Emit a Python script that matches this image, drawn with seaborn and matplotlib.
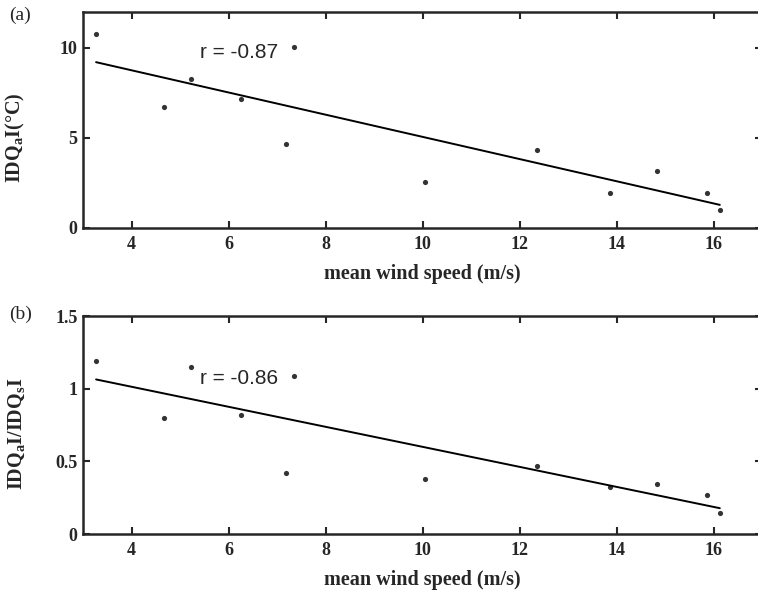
import matplotlib
matplotlib.use("Agg")
import matplotlib.pyplot as plt
import seaborn as sns
import pandas as pd

# values
wind_speed = [3.27, 4.67, 5.23, 6.25, 7.18, 7.36, 10.05, 12.36, 13.87, 14.84, 15.87, 16.13]
dqa = [10.76, 6.74, 8.27, 7.14, 4.65, 10.06, 2.57, 4.36, 1.93, 3.14, 1.93, 1.01]
dqa_ratio = [1.19, 0.80, 1.15, 0.82, 0.42, 1.09, 0.38, 0.47, 0.32, 0.345, 0.27, 0.145]

xticks = [4, 6, 8, 10, 12, 14, 16]
yticks_a = [0, 5, 10]
yticks_b = [0, 0.5, 1, 1.5]
yticklabels_b = ["0", "0.5", "1", "1.5"]

sns.set_style("ticks")
plt.rcParams['font.family'] = ['Liberation Serif', 'DejaVu Serif']
plt.rcParams['mathtext.fontset'] = 'custom'
plt.rcParams['mathtext.rm'] = 'Liberation Serif'
plt.rcParams['mathtext.bf'] = 'Liberation Serif:bold'

df = pd.DataFrame({"wind": wind_speed, "dqa": dqa, "ratio": dqa_ratio})

fig = plt.figure(figsize=(7.58, 5.94), dpi=100)
ax_a = fig.add_axes([0.1095, 0.6162, 0.8958, 0.3636])
ax_b = fig.add_axes([0.1095, 0.1010, 0.8958, 0.3670])


def draw_panel(ax, ycol, ylim, yticks, yticklabels, ylabel, r_text, r_y, label_y):
    sns.regplot(data=df, x="wind", y=ycol, ax=ax, ci=None, color="black",
                scatter_kws={"s": 14, "linewidths": 0},
                line_kws={"linewidth": 1.4})
    ax.set_xlim(3, 17)
    ax.set_ylim(*ylim)
    ax.set_xticks(xticks)
    ax.set_xticklabels([str(t) for t in xticks], fontsize=13, fontweight='bold')
    ax.set_yticks(yticks)
    ax.set_yticklabels(yticklabels, fontsize=13, fontweight='bold')
    ax.tick_params(axis='x', which='both', direction='in', top=True, bottom=True,
                   length=5, width=1.5, pad=6)
    ax.tick_params(axis='y', which='both', direction='in', left=True, right=True,
                   length=0, width=1.5, pad=4)
    ax.tick_params(axis='y', right=True, length=5)
    for side in ["top", "bottom", "left", "right"]:
        ax.spines[side].set_visible(True)
        ax.spines[side].set_linewidth(1.8)
    ax.set_xlabel("mean wind speed (m/s)", fontsize=14.5, fontweight='bold', labelpad=8)
    ax.set_ylabel(ylabel, fontsize=14.5, fontweight='bold')
    ax.yaxis.set_label_coords(-0.082, label_y)
    ax.text(5.42, r_y, r_text, fontsize=15, family=['Liberation Sans', 'DejaVu Sans'],
            va='center', ha='left')


draw_panel(ax_a, "dqa", (0, 12), yticks_a, [str(t) for t in yticks_a],
           r"$\mathbf{IDQ_{a}I}$(°C)", "r = -0.87", 9.73, 0.42)
draw_panel(ax_b, "ratio", (0, 1.5), yticks_b, yticklabels_b,
           r"$\mathbf{IDQ_{a}I/IDQ_{s}I}$", "r = -0.86", 1.07, 0.46)

fig.text(0.012, 0.975, "(a)", fontsize=14, va='center', ha='left')
fig.text(0.012, 0.470, "(b)", fontsize=14, va='center', ha='left')

fig.savefig("out.png", dpi=100)
